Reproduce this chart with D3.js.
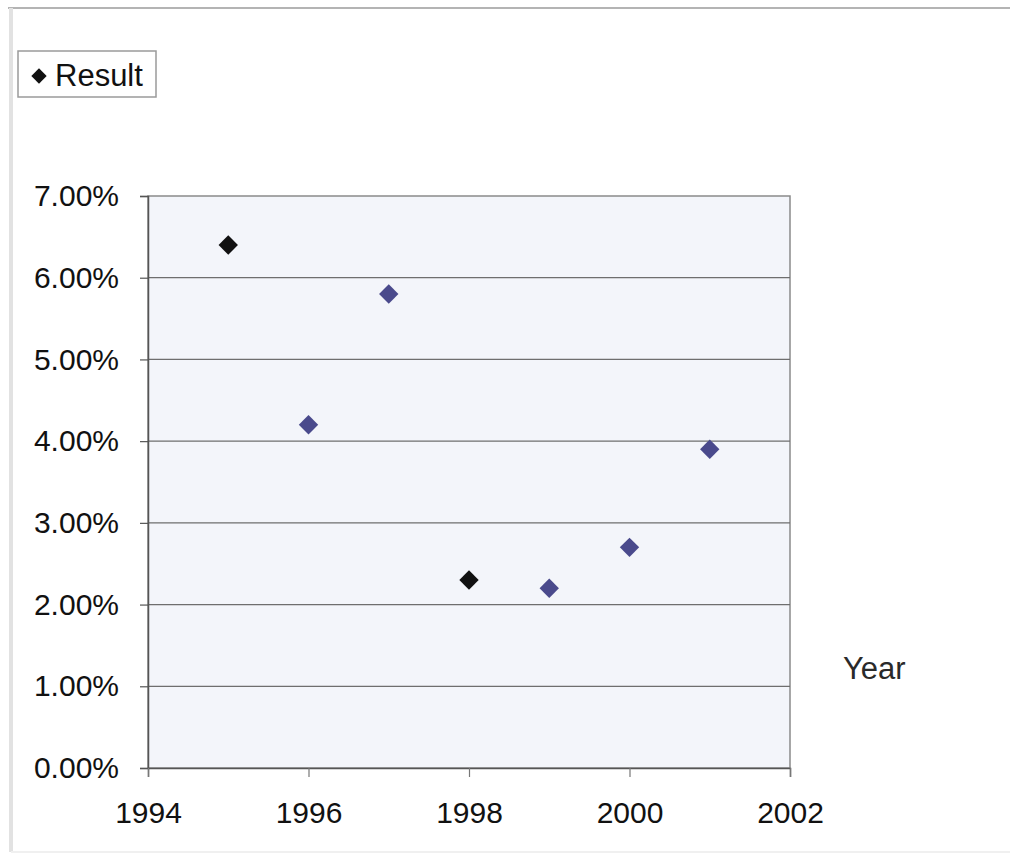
<!DOCTYPE html>
<html>
<head>
<meta charset="utf-8">
<script src="https://cdn.jsdelivr.net/npm/d3@7"></script>
<style>
  html, body { margin: 0; padding: 0; background: #ffffff; }
  svg { display: block; font-family: "Liberation Sans", Arial, sans-serif; }
</style>
</head>
<body>
<svg id="chart" width="1010" height="858"></svg>
<script>
// Annual result by year
const years = [1995, 1996, 1997, 1998, 1999, 2000, 2001];
const results = [6.4, 4.2, 5.8, 2.3, 2.2, 2.7, 3.9]; // percent
const blackYears = [1995, 1998];
const xTicks = [1994, 1996, 1998, 2000, 2002];
const yTicks = [0, 1, 2, 3, 4, 5, 6, 7];
const seriesName = "Result";
const xTitle = "Year";

const svg = d3.select("#chart");
const W = 1010, H = 858;
const plot = { left: 148, right: 790, top: 196, bottom: 768 };

// Outer chart frame
svg.append("line").attr("x1", 8).attr("x2", W).attr("y1", 8).attr("y2", 8)
  .attr("stroke", "#b4b4b4").attr("stroke-width", 2);
svg.append("line").attr("x1", 11).attr("x2", 11).attr("y1", 8).attr("y2", 852)
  .attr("stroke", "#e2e2e2").attr("stroke-width", 4);
svg.append("line").attr("x1", 11).attr("x2", W).attr("y1", 852).attr("y2", 852)
  .attr("stroke", "#f0f0f0").attr("stroke-width", 2);

const x = d3.scaleLinear().domain([1994, 2002]).range([plot.left, plot.right]);
const y = d3.scaleLinear().domain([0, 7]).range([plot.bottom, plot.top]);

// Plot area background
svg.append("rect")
  .attr("x", plot.left).attr("y", plot.top)
  .attr("width", plot.right - plot.left).attr("height", plot.bottom - plot.top)
  .attr("fill", "#f3f5fa").attr("stroke", "#8a8a8a").attr("stroke-width", 1.5);

// Horizontal gridlines
svg.append("g")
  .selectAll("line").data(yTicks.filter(d => d > 0 && d < 7)).join("line")
  .attr("x1", plot.left).attr("x2", plot.right)
  .attr("y1", d => y(d)).attr("y2", d => y(d))
  .attr("stroke", "#6e6e6e").attr("stroke-width", 1.2);

// Y axis
const yAxis = svg.append("g")
  .attr("transform", `translate(${plot.left},0)`)
  .call(d3.axisLeft(y).tickValues(yTicks).tickSize(8).tickPadding(21)
    .tickFormat(d => d.toFixed(2) + "%"));
yAxis.select(".domain").attr("stroke", "#555").attr("stroke-width", 1.5);
yAxis.selectAll(".tick line").attr("stroke", "#555").attr("stroke-width", 1.2);
yAxis.selectAll(".tick text").attr("font-size", 30).attr("fill", "#111")
  .attr("font-family", "Liberation Sans, Arial, sans-serif");

// X axis
const xAxis = svg.append("g")
  .attr("transform", `translate(0,${plot.bottom})`)
  .call(d3.axisBottom(x).tickValues(xTicks).tickSize(9).tickPadding(25)
    .tickFormat(d3.format("d")));
xAxis.select(".domain").attr("stroke", "#555").attr("stroke-width", 1.5);
xAxis.selectAll(".tick line").attr("stroke", "#777").attr("stroke-width", 1.2);
xAxis.selectAll(".tick text").attr("font-size", 30).attr("fill", "#111")
  .attr("font-family", "Liberation Sans, Arial, sans-serif");

// Data points as diamonds
const diamond = d3.symbol().type(d3.symbolDiamond2).size(240);
svg.append("g")
  .selectAll("path").data(years.map((yr, i) => ({ yr, v: results[i] }))).join("path")
  .attr("d", diamond)
  .attr("transform", d => `translate(${x(d.yr)},${y(d.v)})`)
  .attr("fill", d => blackYears.includes(d.yr) ? "#111111" : "#4a4a8c");

// Axis title
svg.append("text")
  .attr("x", 843).attr("y", 679)
  .attr("font-size", 31).attr("fill", "#2a2a2a")
  .text(xTitle);

// Legend
const lg = svg.append("g");
lg.append("rect").attr("x", 18).attr("y", 51).attr("width", 138).attr("height", 46)
  .attr("fill", "#ffffff").attr("stroke", "#9a9a9a").attr("stroke-width", 1.5);
lg.append("path").attr("d", d3.symbol().type(d3.symbolDiamond2).size(150))
  .attr("transform", "translate(39,76)").attr("fill", "#111111");
lg.append("text").attr("x", 55).attr("y", 86)
  .attr("font-size", 31).attr("fill", "#111").text(seriesName);
</script>
</body>
</html>
